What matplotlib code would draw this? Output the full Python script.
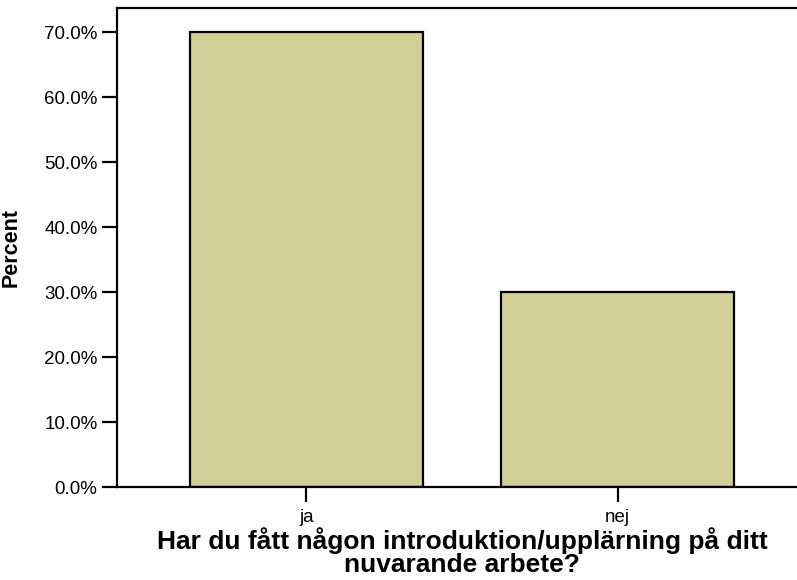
import matplotlib
matplotlib.use("Agg")
import matplotlib.pyplot as plt
from matplotlib.ticker import FuncFormatter

categories = ["ja", "nej"]
percent = [70.0, 30.0]
yticks = [0, 10, 20, 30, 40, 50, 60, 70]

plt.rcParams["font.family"] = ["Liberation Sans", "DejaVu Sans"]

fig = plt.figure(figsize=(7.97, 5.80), dpi=100)
W, H = 797, 580
left, bottom, top = 117, 487, 8
ax = fig.add_axes([left / W, 1 - bottom / H, (W - left) / W, (bottom - top) / H])

x = list(range(len(categories)))
ax.bar(x, percent, width=0.75, color="#D3CE98", edgecolor="black", linewidth=1.6, zorder=2)

ax.set_xlim(-0.609, 1.577)
ax.set_ylim(0, 73.75)
ax.set_xticks(x)
ax.set_xticklabels(categories)
ax.set_yticks(yticks)
ax.yaxis.set_major_formatter(FuncFormatter(lambda v, p: f"{v:.1f}%"))

for s in ["left", "bottom", "top"]:
    ax.spines[s].set_linewidth(1.6)
ax.spines["right"].set_visible(False)
ax.tick_params(axis="both", direction="out", length=10.5, width=1.6, labelsize=13.5, pad=3.5)
ax.tick_params(axis="x", pad=5)

ax.set_ylabel("Percent", fontsize=15.5, fontweight="bold")
ax.yaxis.set_label_coords((22 - left) / (W - left), 0.5)
ax.set_xlabel("Har du fått någon introduktion/upplärning på ditt\nnuvarande arbete?",
              fontsize=19, fontweight="bold", linespacing=0.93)
ax.xaxis.set_label_coords((462 - left) / (W - left), (bottom - 527) / (bottom - top))

fig.savefig("out.png", dpi=100)
